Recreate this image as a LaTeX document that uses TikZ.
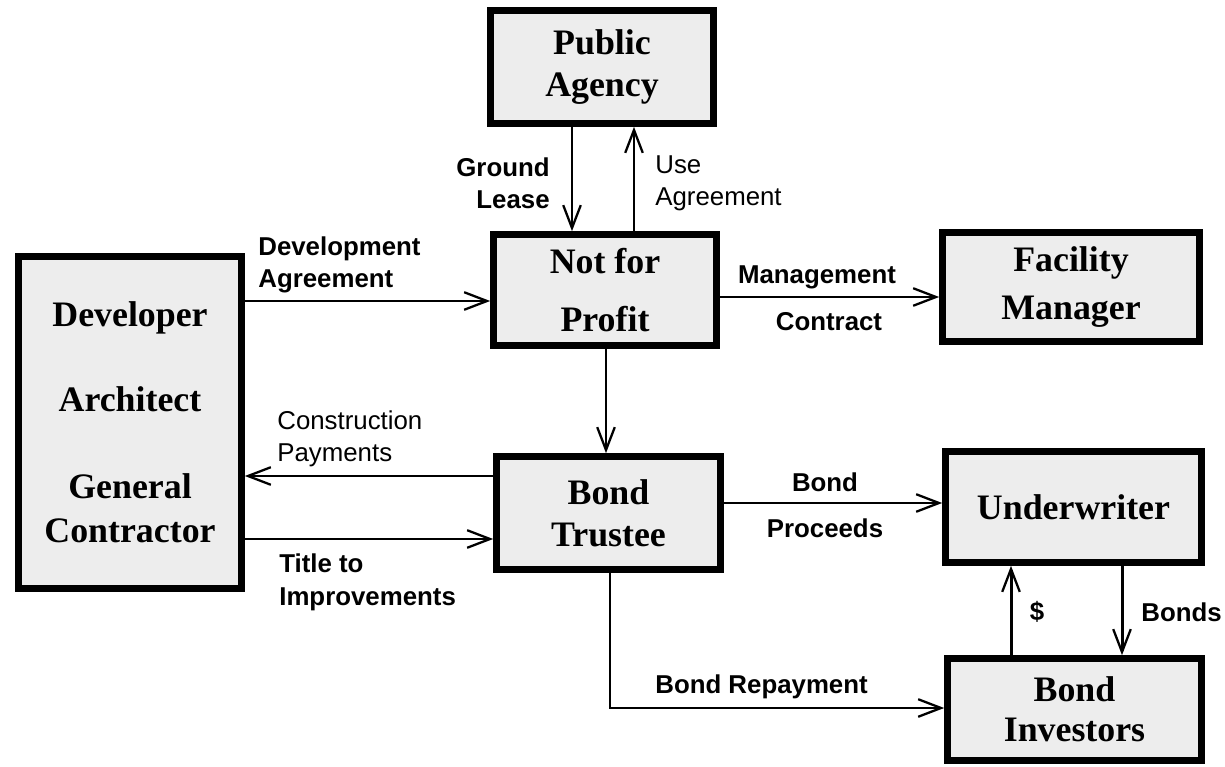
\documentclass[tikz,border=0pt]{standalone}
\usepackage{fontspec}
\setmainfont{Liberation Serif}
\newfontfamily\lblfont{Liberation Sans}
\usetikzlibrary{arrows.meta}
\tikzset{
  box/.style={draw=black, line width=3.8pt, fill=black!7, align=center, inner sep=0pt, line join=miter},
  boxfont/.style={font=\bfseries\fontsize{20.4}{#1}\selectfont},
  arr/.style={line width=1.7pt, line join=miter, -{Straight Barb[length=13pt,width=10pt,line width=1.3pt]}},
  lbl/.style={font=\lblfont\fontsize{14.7}{18.5}\selectfont, inner sep=0pt, align=left},
  blbl/.style={font=\lblfont\bfseries\fontsize{14.7}{18.5}\selectfont, inner sep=0pt, align=left},
}
\begin{document}
\begin{tikzpicture}[x=0.02cm,y=-0.02cm]
\useasboundingbox (0,0) rectangle (1225,767);
% boxes
\node[box, boxfont=24, minimum width=4.46cm, minimum height=2.26cm] (pa) at (602,67) {Public\\Agency};
\node[box, boxfont=33, minimum width=4.46cm, minimum height=2.22cm] (nfp) at (605,290) {Not for\\Profit};
\node[box, boxfont=27, minimum width=5.14cm, minimum height=2.18cm] (fm) at (1071,287) {Facility\\Manager};
\node[box, boxfont=25, minimum width=4.46cm, minimum height=6.64cm] (dev) at (130,422.5) {Developer\\[23pt]Architect\\[25pt]General\\Contractor};
\node[box, boxfont=24, minimum width=4.48cm, minimum height=2.26cm] (bt) at (608.5,513) {Bond\\Trustee};
\node[box, boxfont=24, minimum width=5.12cm, minimum height=2.22cm] (uw) at (1073.5,507) {Underwriter};
\node[box, boxfont=23, minimum width=5.08cm, minimum height=2.04cm] (bi) at (1074.5,709.5) {Bond\\Investors};
% reference coordinates for connector positions
\coordinate (xgl) at (572,0);
\coordinate (xua) at (634,0);
\coordinate (ydev) at (0,301);
\coordinate (ymc) at (0,297);
\coordinate (xnb) at (606,0);
\coordinate (ycp) at (0,476);
\coordinate (yti) at (0,539);
\coordinate (ybp) at (0,503);
\coordinate (xbr) at (610,0);
\coordinate (ybr) at (0,708);
\coordinate (xd) at (1011,0);
\coordinate (xbo) at (1122,0);
% connectors
\draw[arr] (pa.south -| xgl) -- (nfp.north -| xgl);
\draw[arr] (nfp.north -| xua) -- (pa.south -| xua);
\draw[arr] (dev.east |- ydev) -- (nfp.west |- ydev);
\draw[arr] (nfp.east |- ymc) -- (fm.west |- ymc);
\draw[arr] (nfp.south -| xnb) -- (bt.north -| xnb);
\draw[arr] (bt.west |- ycp) -- (dev.east |- ycp);
\draw[arr] (dev.east |- yti) -- (bt.west |- yti);
\draw[arr] (bt.east |- ybp) -- (uw.west |- ybp);
\draw[arr] (bt.south -| xbr) |- (bi.west |- ybr);
\draw[arr] (bi.north -| xd) -- (uw.south -| xd);
\draw[arr] (uw.south -| xbo) -- (bi.north -| xbo);
% labels
\node[blbl, anchor=east, align=right] (lgl) at (550,183.5) {Ground\\Lease};
\node[lbl, anchor=west] (lua) at (655,183.5) {Use\\Agreement};
\node[blbl, anchor=west] (lda) at (258,265) {Development\\Agreement};
\node[blbl] (lmc1) at (817,277) {Management};
\node[blbl] (lmc2) at (829,322) {Contract};
\node[lbl, anchor=west] (lcp) at (277,439) {Construction\\Payments};
\node[blbl, anchor=west] (lti) at (279,582.5) {Title to\\Improvements};
\node[blbl] (lbp1) at (825,482) {Bond};
\node[blbl] (lbp2) at (825,528) {Proceeds};
\node[blbl, anchor=west] (lbr) at (655,687) {Bond Repayment};
\node[blbl] (ld) at (1037,612) {\$};
\node[blbl, anchor=west] (lbo) at (1141,612) {Bonds};
\end{tikzpicture}
\end{document}
